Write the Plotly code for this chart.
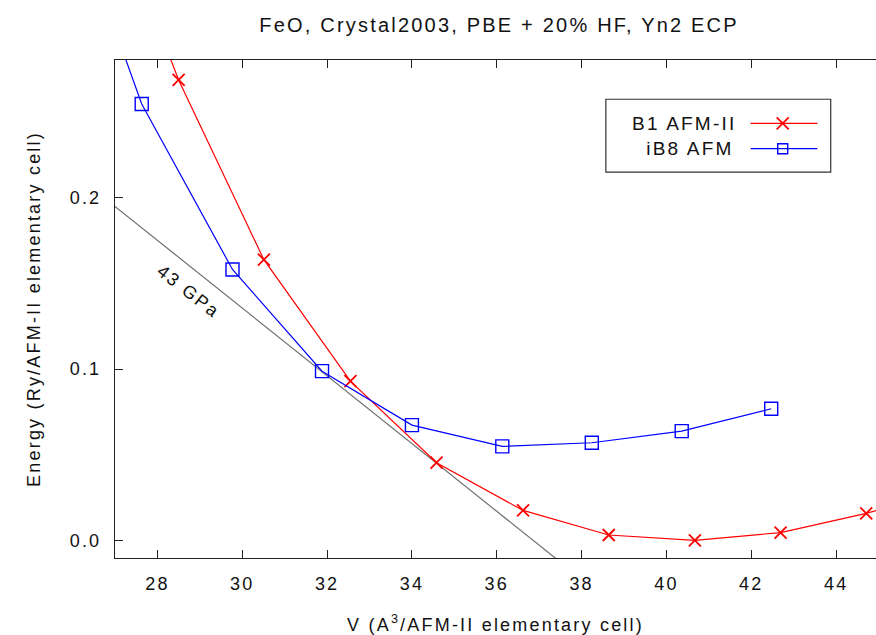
import plotly.graph_objects as go

# Total energy vs. volume, FeO (Crystal2003, PBE + 20% HF, Yn2 ECP)
b1_volume = [26.47, 28.50, 30.51, 32.55, 34.58, 36.62, 38.64, 40.67, 42.69, 44.71, 46.73]
b1_energy = [0.398, 0.2684, 0.1637, 0.0930, 0.0455, 0.0177, 0.0034, 0.0003, 0.0048, 0.0160, 0.0300]

ib8_volume = [25.50, 27.63, 29.77, 31.88, 34.00, 36.13, 38.24, 40.36, 42.47]
ib8_energy = [0.401, 0.2544, 0.1580, 0.0988, 0.0674, 0.0550, 0.0571, 0.0639, 0.0769]

# Common tangent: slope given by the transition pressure
pressure_gpa = 43.0
ry_per_a3_in_gpa = 2179.87
tangent_point = (34.58, 0.0452)
tangent_volume = [26.5, 37.6]

x_ticks = [28, 30, 32, 34, 36, 38, 40, 42, 44]
y_ticks = [0.0, 0.1, 0.2]
x_range = [27.0, 44.94]
y_range = [-0.01, 0.28]

series_names = ["B1 AFM-II", "iB8 AFM"]
RED = "#ff0000"
BLUE = "#0000ff"
GRAY = "#707070"
INK = "#111111"
FONT = "Liberation Sans, Arial, sans-serif"

slope = -pressure_gpa / ry_per_a3_in_gpa
tangent_energy = [tangent_point[1] + slope * (v - tangent_point[0]) for v in tangent_volume]

fig = go.Figure()

fig.add_trace(go.Scatter(
    x=tangent_volume, y=tangent_energy, mode="lines",
    line=dict(color=GRAY, width=1.2), hoverinfo="skip", showlegend=False,
))
fig.add_trace(go.Scatter(
    x=b1_volume, y=b1_energy, mode="lines+markers", name=series_names[0],
    line=dict(color=RED, width=1.2),
    marker=dict(symbol="x-thin-open", size=12, color=RED, line=dict(color=RED, width=1.8)),
    showlegend=False,
))
fig.add_trace(go.Scatter(
    x=ib8_volume, y=ib8_energy, mode="lines+markers", name=series_names[1],
    line=dict(color=BLUE, width=1.2),
    marker=dict(symbol="square-open", size=13, color=BLUE, line=dict(color=BLUE, width=1.4)),
    showlegend=False,
))

# Key box drawn in the gnuplot style: label on the left, sample on the right
key_rows = [0.8729, 0.8219]
key_styles = [
    dict(color=RED, symbol="x-thin-open", size=12, width=1.8),
    dict(color=BLUE, symbol="square-open", size=10, width=1.4),
]
for name, yk, st in zip(series_names, key_rows, key_styles):
    fig.add_trace(go.Scatter(
        x=[0.8353, 0.9229], y=[yk, yk], mode="lines", xaxis="x2", yaxis="y2",
        line=dict(color=st["color"], width=1.2), hoverinfo="skip", showlegend=False,
        cliponaxis=False,
    ))
    fig.add_trace(go.Scatter(
        x=[0.8774], y=[yk], mode="markers", xaxis="x2", yaxis="y2",
        marker=dict(symbol=st["symbol"], size=st["size"], color=st["color"],
                    line=dict(color=st["color"], width=st["width"])),
        hoverinfo="skip", showlegend=False, cliponaxis=False,
    ))
    fig.add_annotation(
        x=0.8055, y=yk, xref="paper", yref="paper", text=name, showarrow=False,
        xanchor="right", yanchor="middle", font=dict(family=FONT, size=19, color=INK),
    )

fig.add_shape(type="rect", xref="paper", yref="paper",
              x0=0.645, x1=0.9405, y0=0.7747, y1=0.9212,
              line=dict(color="#333333", width=1.2), fillcolor="rgba(0,0,0,0)")

fig.add_annotation(
    x=28.75, y=0.145, text="43 GPa", showarrow=False, textangle=38,
    font=dict(family=FONT, size=18, color=INK), xanchor="center", yanchor="middle",
)

axis_common = dict(
    showline=True, linecolor="#222222", linewidth=1.2,
    ticks="inside", ticklen=8, tickwidth=1.2, tickcolor="#222222",
    showgrid=False, zeroline=False,
    tickfont=dict(family=FONT, size=18, color=INK),
)

fig.update_layout(
    width=876, height=635,
    margin=dict(l=115, r=0, t=60, b=76.5),
    paper_bgcolor="white", plot_bgcolor="white",
    showlegend=False,
    title=dict(
        text="FeO, Crystal2003, PBE + 20% HF, Yn2 ECP",
        x=0.5697, y=1 - 24.5 / 635, xref="container", yref="container",
        xanchor="center", yanchor="middle",
        font=dict(family=FONT, size=20, color=INK),
    ),
    xaxis=dict(
        **axis_common, range=x_range, tickvals=x_ticks, mirror="ticks",
        ticklabelstandoff=9,
        title=dict(text="V (A<sup>3</sup>/AFM-II elementary cell)", standoff=25,
                   font=dict(family=FONT, size=18, color=INK)),
    ),
    yaxis=dict(
        **axis_common, range=y_range, tickvals=y_ticks, tickformat=".1f",
        ticklabelstandoff=9,
        title=dict(text="Energy (Ry/AFM-II elementary cell)", standoff=30,
                   font=dict(family=FONT, size=18, color=INK)),
    ),
    xaxis2=dict(overlaying="x", range=[0, 1], visible=False, fixedrange=True),
    yaxis2=dict(overlaying="y", range=[0, 1], visible=False, fixedrange=True),
)

# gnuplot's bitmap fonts run wide; loosen the letter spacing of every label
widen_text = (
    "document.querySelectorAll('text').forEach(function(t){"
    "t.style.letterSpacing='2.2px';});"
)

fig.write_html("out.html", post_script=widen_text)
